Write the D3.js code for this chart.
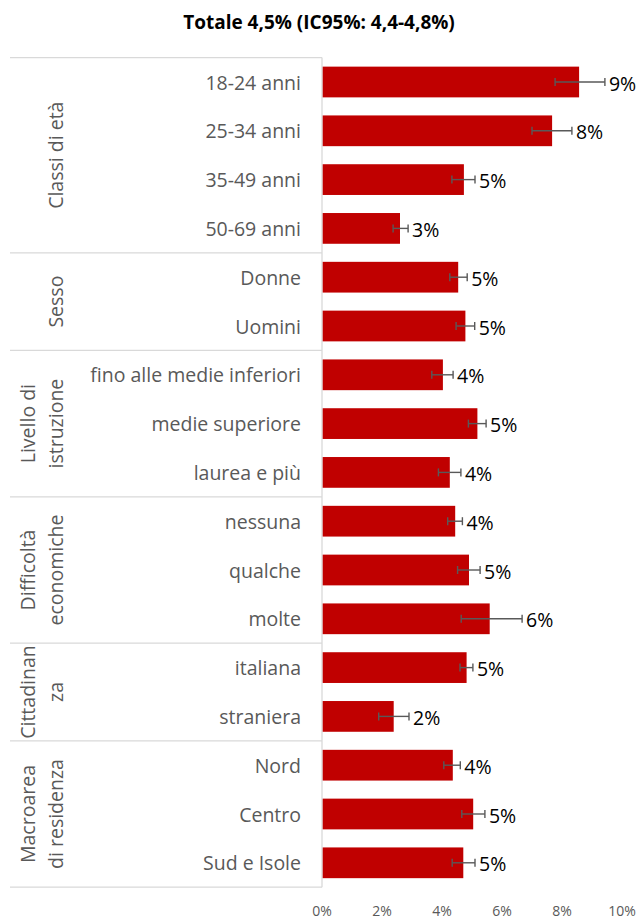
<!DOCTYPE html>
<html>
<head>
<meta charset="utf-8">
<script src="https://cdn.jsdelivr.net/npm/d3@7"></script>
<style>
  html, body { margin: 0; padding: 0; background: #fff; }
  svg { display: block; font-family: "Open Sans", sans-serif; }
</style>
</head>
<body>
<svg id="chart" width="638" height="918"></svg>
<script>
const title = "Totale 4,5% (IC95%: 4,4-4,8%)";
const categories = ["18-24 anni", "25-34 anni", "35-49 anni", "50-69 anni",
  "Donne", "Uomini",
  "fino alle medie inferiori", "medie superiore", "laurea e più",
  "nessuna", "qualche", "molte",
  "italiana", "straniera",
  "Nord", "Centro", "Sud e Isole"];
const values = [8.57, 7.67, 4.73, 2.60, 4.54, 4.78, 4.03, 5.18, 4.26, 4.44, 4.90, 5.59, 4.82, 2.39, 4.36, 5.04, 4.71];
const ciLow  = [7.77, 7.00, 4.33, 2.37, 4.26, 4.47, 3.66, 4.88, 3.88, 4.19, 4.52, 4.64, 4.60, 1.89, 4.06, 4.66, 4.34];
const ciHigh = [9.43, 8.33, 5.10, 2.87, 4.84, 5.09, 4.37, 5.47, 4.63, 4.68, 5.27, 6.67, 5.03, 2.90, 4.61, 5.43, 5.10];
const groupLabels = [["Classi di età"], ["Sesso"], ["Livello di", "istruzione"], ["Difficoltà", "economiche"], ["Cittadinan", "za"], ["Macroarea", "di residenza"]];
const groupSizes = [4, 2, 3, 3, 2, 3];
const xTicks = [0, 2, 4, 6, 8, 10];

const svg = d3.select("#chart");
const gray = "#595959";
const lineGray = "#d9d9d9";

const x = d3.scaleLinear().domain([0, 10]).range([322, 622]);
const y = d3.scaleBand().domain(categories).range([57.6, 887.2]).paddingInner(0.37).paddingOuter(0.185);
const step = y.step();
const plotTop = 57.6;

// Title
svg.append("text").attr("x", 319).attr("y", 29).attr("text-anchor", "middle")
  .attr("font-size", 19).attr("font-weight", "bold").attr("fill", "#000").text(title);

// Group separators
let idx = 0;
const bounds = [0];
groupSizes.forEach(s => { idx += s; bounds.push(idx); });
bounds.forEach(b => {
  svg.append("line").attr("x1", 10).attr("x2", 322)
    .attr("y1", plotTop + b * step).attr("y2", plotTop + b * step)
    .attr("stroke", lineGray).attr("stroke-width", 1.3);
});
// Vertical axis line
svg.append("line").attr("x1", 322).attr("x2", 322).attr("y1", plotTop).attr("y2", plotTop + categories.length * step)
  .attr("stroke", lineGray).attr("stroke-width", 1.3);

// Group labels
groupLabels.forEach((lines, i) => {
  const cy = plotTop + (bounds[i] + bounds[i + 1]) / 2 * step;
  const xs = lines.length === 1 ? [55] : [27, 55];
  lines.forEach((ln, j) => {
    svg.append("text")
      .attr("transform", `translate(${xs[j]},${cy}) rotate(-90)`)
      .attr("text-anchor", "middle").attr("dominant-baseline", "central")
      .attr("font-size", 19.5).attr("fill", gray).text(ln);
  });
});

// Category labels
svg.append("g").selectAll("text").data(categories).join("text")
  .attr("x", 301).attr("y", d => y(d) + y.bandwidth() / 2)
  .attr("text-anchor", "end").attr("dominant-baseline", "central")
  .attr("font-size", 19.5).attr("fill", gray).text(d => d);

// Bars
svg.append("g").selectAll("rect").data(categories).join("rect")
  .attr("x", x(0) + 0.7).attr("y", (d) => y(d))
  .attr("width", (d, i) => x(values[i]) - x(0) - 0.7)
  .attr("height", y.bandwidth())
  .attr("fill", "#C00000");

// Error bars
const eg = svg.append("g").attr("stroke", gray).attr("stroke-width", 1.4);
categories.forEach((c, i) => {
  const cy = y(c) + y.bandwidth() / 2;
  eg.append("line").attr("x1", x(ciLow[i])).attr("x2", x(ciHigh[i])).attr("y1", cy).attr("y2", cy);
  [ciLow[i], ciHigh[i]].forEach(v => {
    eg.append("line").attr("x1", x(v)).attr("x2", x(v)).attr("y1", cy - 4).attr("y2", cy + 4);
  });
});

// Value labels
svg.append("g").selectAll("text").data(categories).join("text")
  .attr("x", (d, i) => Math.max(x(values[i]) + 9, x(ciHigh[i]) + 4))
  .attr("y", d => y(d) + y.bandwidth() / 2 + 1)
  .attr("dominant-baseline", "central")
  .attr("font-size", 19.5).attr("fill", "#000")
  .text((d, i) => Math.round(values[i]) + "%");

// X axis tick labels
svg.append("g").selectAll("text").data(xTicks).join("text")
  .attr("x", d => x(d)).attr("y", 910)
  .attr("text-anchor", "middle").attr("dominant-baseline", "central")
  .attr("font-size", 14).attr("fill", gray).text(d => d + "%");
</script>
</body>
</html>
